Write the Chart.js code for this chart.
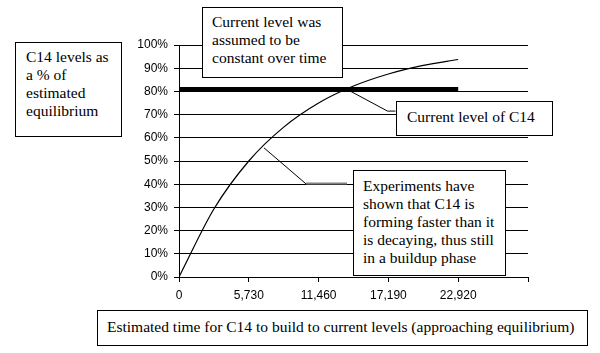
<!DOCTYPE html>
<html>
<head>
<meta charset="utf-8">
<script src="https://cdn.jsdelivr.net/npm/chart.js@4"></script>
<style>
  html, body { margin: 0; padding: 0; background: #fff; }
  #wrap { position: relative; width: 600px; height: 353px; overflow: hidden; }
  canvas { position: absolute; left: 0; top: 0; }
  .box {
    position: absolute; box-sizing: border-box; background: #fff;
    border: 1px solid #000; font-family: "Liberation Serif", "Times New Roman", serif;
    font-size: 15.5px; line-height: 18px; color: #000; white-space: nowrap;
  }
</style>
</head>
<body>
<div id="wrap">
  <canvas id="c" width="600" height="353"></canvas>
  <div class="box" style="left:15px;top:42px;width:107px;height:95px;padding:5px 0 0 10px;">C14 levels as<br>a % of<br>estimated<br>equilibrium</div>
  <div class="box" style="left:202px;top:7px;width:141px;height:71px;padding:5px 0 0 9px;">Current level was<br>assumed to be<br>constant over time</div>
  <div class="box" style="left:396px;top:101px;width:157px;height:35px;padding:6px 0 0 10px;">Current level of C14</div>
  <div class="box" style="left:353px;top:170px;width:153px;height:106px;padding:6px 0 0 9px;">Experiments have<br>shown that C14 is<br>forming faster than it<br>is decaying, thus still<br>in a buildup phase</div>
  <div class="box" style="left:97px;top:310px;width:491px;height:36px;padding:7px 0 0 9px;">Estimated time for C14 to build to current levels (approaching equilibrium)</div>
</div>
<script>
// Years (half-life steps of 5,730 yrs) and C14 level as % of equilibrium
const years      = [0, 2865, 5730, 8595, 11460, 14325, 17190, 20055, 22920];
const levels     = [0, 29.3, 50, 64.6, 75, 82.3, 87.5, 91.2, 93.75];
const currentYears = [0, 22920];
const currentLevel = [81, 81];
const xTicks = [0, 5730, 11460, 17190, 22920, 28650];
const yTicks = [0, 10, 20, 30, 40, 50, 60, 70, 80, 90, 100];
const crossYear = 13750;   // where the curve meets the current level
const noteYear  = 6900;    // where the "experiments" leader touches the curve

const leaders = {
  id: 'leaders',
  afterDatasetsDraw(chart) {
    const {ctx, scales: {x, y}} = chart;
    ctx.save();
    ctx.strokeStyle = '#000';
    ctx.lineWidth = 1;
    // leader to "Current level of C14"
    const ax = x.getPixelForValue(crossYear), ay = y.getPixelForValue(currentLevel[0]);
    ctx.beginPath();
    ctx.moveTo(ax, ay);
    ctx.lineTo(ax + 41, ay + 22);
    ctx.lineTo(ax + 49, ay + 22);
    ctx.stroke();
    // leader to "Experiments have ..."
    const bx = x.getPixelForValue(noteYear) + 1, by = y.getPixelForValue(56.5) + 2;
    ctx.beginPath();
    ctx.moveTo(bx, by);
    ctx.lineTo(bx + 42, by + 36);
    ctx.stroke();
    ctx.strokeStyle = '#808080';
    ctx.lineWidth = 2;
    ctx.beginPath();
    ctx.moveTo(bx + 42, by + 35.5);
    ctx.lineTo(bx + 83, by + 35.5);
    ctx.stroke();
    ctx.restore();
  }
};

const tickFont = {family: '"Liberation Sans", Arial, sans-serif', size: 12};

new Chart(document.getElementById('c'), {
  type: 'scatter',
  data: {
    datasets: [
      {
        data: years.map((v, i) => ({x: v, y: levels[i]})),
        showLine: true, borderColor: '#000', borderWidth: 1.2,
        pointRadius: 0, cubicInterpolationMode: 'monotone', fill: false
      },
      {
        data: currentYears.map((v, i) => ({x: v, y: currentLevel[i]})),
        showLine: true, borderColor: '#000', borderWidth: 4,
        pointRadius: 0, borderCapStyle: 'butt', fill: false
      }
    ]
  },
  options: {
    responsive: false,
    animation: false,
    layout: {padding: {top: 45, right: 72, left: 0, bottom: 0}},
    plugins: {legend: {display: false}, tooltip: {enabled: false}},
    scales: {
      x: {
        type: 'linear', min: 0, max: 28650,
        afterBuildTicks(s) { s.ticks = xTicks.map(v => ({value: v})); },
        afterFit(s) { s.height = 76; },
        grid: {drawOnChartArea: false, drawTicks: true, tickLength: 5, color: '#000'},
        border: {color: '#000', width: 1},
        ticks: {
          color: '#000', font: tickFont, padding: 6, maxRotation: 0,
          callback: v => (v > 23000 ? '' : v.toLocaleString('en-US'))
        }
      },
      y: {
        min: 0, max: 100,
        afterBuildTicks(s) { s.ticks = yTicks.map(v => ({value: v})); },
        afterFit(s) { s.width = 179; },
        grid: {drawOnChartArea: true, drawTicks: true, tickLength: 5, color: '#000'},
        border: {color: '#000', width: 1},
        ticks: {color: '#000', font: tickFont, padding: 6, callback: v => v + '%'}
      }
    }
  },
  plugins: [leaders]
});
</script>
</body>
</html>
